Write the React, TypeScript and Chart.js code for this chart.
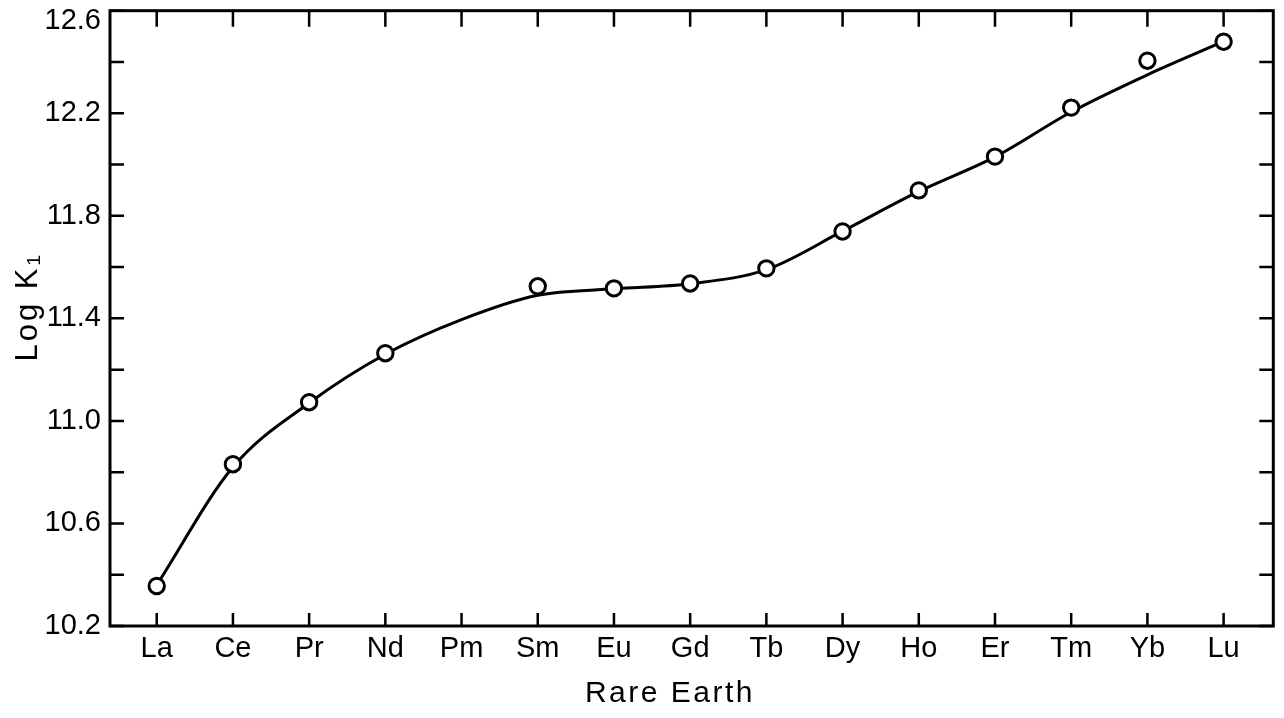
import React, { useEffect, useRef } from "react";
import { Chart, registerables } from "chart.js";

Chart.register(...registerables);

// ---- Data ----
const rareEarths = ["La", "Ce", "Pr", "Nd", "Pm", "Sm", "Eu", "Gd", "Tb", "Dy", "Ho", "Er", "Tm", "Yb", "Lu"];
// measured points (Pm has no measurement)
const logK1 = [10.356, 10.831, 11.073, 11.264, null, 11.525, 11.517, 11.536, 11.595, 11.739, 11.899, 12.031, 12.222, 12.405, 12.479];
// hand-drawn smooth curve through the data, read at each element
const smoothCurve = [10.36, 10.82, 11.07, 11.26, 11.395, 11.49, 11.515, 11.535, 11.59, 11.74, 11.895, 12.03, 12.205, 12.35, 12.48];
const yMajorTicks = [10.2, 10.6, 11.0, 11.4, 11.8, 12.2, 12.6];
const yMinorTicks = [10.4, 10.8, 11.2, 11.6, 12.0, 12.4];
const xTitle = "Rare Earth\u00a0\u00a0\u00a0\u00a0";
const yTitle = "\u00a0\u00a0Log K\u2081";

const TICK_FONT = "'Liberation Sans', Arial, sans-serif";
const TITLE_FONT = "'Liberation Sans', Arial, sans-serif";

function spaceTitle(scale: any, spacing: string) {
  if (scale.__spaced) return;
  const orig = scale.drawTitle.bind(scale);
  scale.drawTitle = function () {
    const ctx = this.ctx;
    const prev = ctx.letterSpacing;
    ctx.letterSpacing = spacing;
    orig();
    ctx.letterSpacing = prev;
  };
  scale.__spaced = true;
}

const framePlugin = {
  id: "frameAndTicks",
  afterDraw(chart: any) {
    const { ctx, chartArea } = chart;
    const xs = chart.scales.x;
    const ys = chart.scales.y;
    const { left, right, top, bottom } = chartArea;
    ctx.save();
    ctx.strokeStyle = "#000";
    ctx.lineCap = "butt";
    ctx.lineWidth = 3;
    ctx.strokeRect(left, top, right - left, bottom - top);
    ctx.lineWidth = 2.5;
    ctx.beginPath();
    rareEarths.forEach((_, i) => {
      const px = xs.getPixelForValue(i);
      ctx.moveTo(px, bottom);
      ctx.lineTo(px, bottom - 13);
      ctx.moveTo(px, top);
      ctx.lineTo(px, top + 16);
    });
    [...yMajorTicks, ...yMinorTicks].forEach((v) => {
      const py = ys.getPixelForValue(v);
      ctx.moveTo(left, py);
      ctx.lineTo(left + 14, py);
      ctx.moveTo(right, py);
      ctx.lineTo(right - 14, py);
    });
    ctx.stroke();
    ctx.restore();
  },
};

export default function App() {
  const canvasRef = useRef<HTMLCanvasElement | null>(null);

  useEffect(() => {
    const canvas = canvasRef.current;
    if (!canvas) return;
    const pointData = logK1
      .map((v, i) => (v === null ? null : { x: i, y: v }))
      .filter((p) => p !== null);
    const curveData = smoothCurve.map((v, i) => ({ x: i, y: v }));
    const yTop = yMajorTicks[yMajorTicks.length - 1];

    const chart = new Chart(canvas, {
      type: "line",
      data: {
        datasets: [
          {
            label: "Log K1",
            data: pointData as any,
            showLine: false,
            pointRadius: 7.7,
            pointHoverRadius: 7.7,
            pointBorderWidth: 3,
            pointBackgroundColor: "#ffffff",
            pointBorderColor: "#000000",
            borderColor: "#000000",
            order: 0,
          },
          {
            label: "curve",
            data: curveData as any,
            borderColor: "#000000",
            borderWidth: 3,
            pointRadius: 0,
            cubicInterpolationMode: "monotone",
            fill: false,
            order: 1,
          },
        ],
      },
      options: {
        animation: false,
        responsive: false,
        events: [],
        layout: { padding: { left: 0, right: 4, top: 10, bottom: 0 } },
        plugins: {
          legend: { display: false },
          tooltip: { enabled: false },
          title: { display: false },
        },
        scales: {
          x: {
            type: "linear",
            min: -0.613,
            max: 14.652,
            afterBuildTicks: (s: any) => {
              s.ticks = rareEarths.map((_, i) => ({ value: i }));
            },
            ticks: {
              autoSkip: false,
              maxRotation: 0,
              minRotation: 0,
              padding: 6,
              color: "#000",
              font: { family: TICK_FONT, size: 29 },
              callback: (v: any) => rareEarths[Math.round(Number(v))] ?? "",
            },
            grid: { display: false, drawTicks: false },
            border: { display: false },
            title: {
              display: true,
              text: xTitle,
              color: "#000",
              font: { family: TITLE_FONT, size: 30 },
              padding: { top: 0, bottom: 6 },
            },
            afterFit: (s: any) => {
              s.height = 92;
              s.paddingLeft = 0;
              s.paddingRight = 0;
              spaceTitle(s, "2.5px");
            },
          },
          y: {
            type: "linear",
            min: 10.2,
            max: 12.6,
            afterBuildTicks: (s: any) => {
              s.ticks = yMajorTicks.map((v) => ({ value: v }));
            },
            ticks: {
              padding: 9,
              color: "#000",
              font: { family: TICK_FONT, size: 29, lineHeight: 0.7 },
              callback: (v: any) => {
                const t = Number(v).toFixed(1);
                return Math.abs(Number(v) - yTop) < 1e-6 ? ["", t] : t;
              },
            },
            grid: { display: false, drawTicks: false },
            border: { display: false },
            title: {
              display: true,
              text: yTitle,
              color: "#000",
              font: { family: TITLE_FONT, size: 31 },
              padding: { top: 10, bottom: 0 },
            },
            afterFit: (s: any) => {
              s.width = 110;
              s.paddingTop = 0;
              s.paddingBottom = 0;
              spaceTitle(s, "3px");
            },
          },
        },
      },
      plugins: [framePlugin],
    });

    return () => {
      chart.destroy();
    };
  }, []);

  return (
    <div
      style={{
        position: "absolute",
        left: 0,
        top: 0,
        width: 1284,
        height: 718,
        background: "#ffffff",
      }}
    >
      <canvas ref={canvasRef} width={1284} height={718} style={{ display: "block" }} />
    </div>
  );
}
